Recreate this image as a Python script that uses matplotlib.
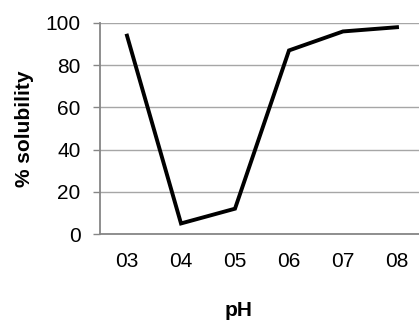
import matplotlib
matplotlib.use('Agg')
import matplotlib.pyplot as plt

# Data
ph_labels = ['03', '04', '05', '06', '07', '08']
solubility = [94, 5, 12, 87, 96, 98]
y_ticks = [0, 20, 40, 60, 80, 100]

plt.rcParams['font.family'] = ['Liberation Sans', 'DejaVu Sans']

W, H = 419, 322
fig = plt.figure(figsize=(W / 100, H / 100), dpi=100)
# axes runs slightly past the right edge, like the cropped original
left, right, top, bottom = 100, 424, 23, 234
ax = fig.add_axes([left / W, 1 - bottom / H, (right - left) / W, (bottom - top) / H])

x = list(range(len(ph_labels)))
ax.plot(x, solubility, color='black', linewidth=2.8, solid_joinstyle='miter', zorder=3)

ax.set_xlim(-0.5, len(ph_labels) - 0.5)
ax.set_ylim(0, 100)
ax.set_xticks(x)
ax.set_xticklabels(ph_labels)
ax.set_yticks(y_ticks)

ax.yaxis.grid(True, color='#a6a6a6', linewidth=1.0)
ax.set_axisbelow(True)

for side in ['top', 'right']:
    ax.spines[side].set_visible(False)
for side in ['left', 'bottom']:
    ax.spines[side].set_color('#868686')
    ax.spines[side].set_linewidth(1.3)

ax.tick_params(axis='y', length=5, width=1.0, color='#868686', labelsize=15, pad=9)
ax.tick_params(axis='x', length=0, labelsize=15, pad=13)

# axis titles placed by pixel position
fig.text(239 / W, 1 - 310 / H, 'pH', fontsize=15, fontweight='bold',
         ha='center', va='center')
fig.text(25 / W, 1 - 129 / H, '% solubility', fontsize=15, fontweight='bold',
         ha='center', va='center', rotation=90)

fig.savefig('out.png', dpi=100)
